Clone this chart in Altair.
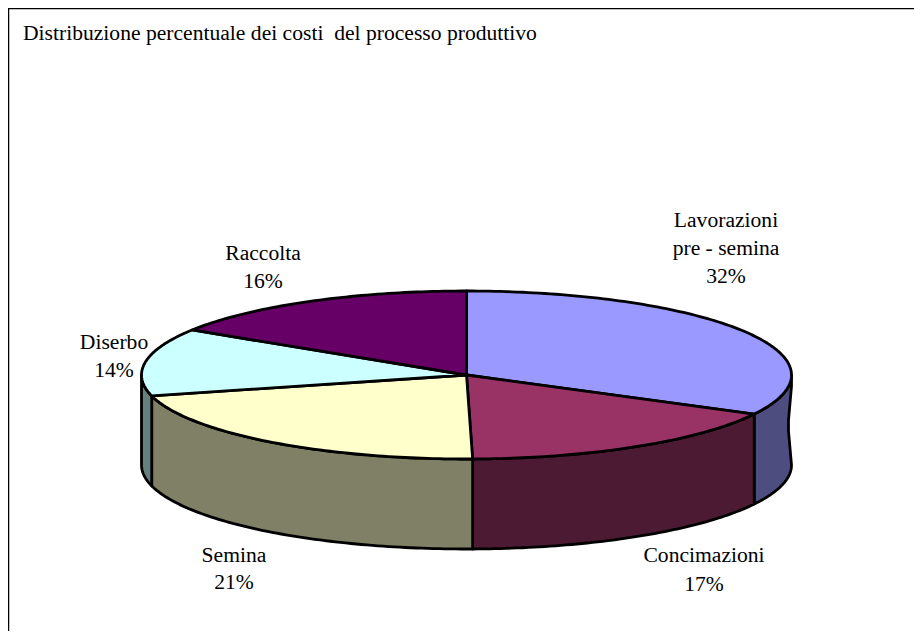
import math
import altair as alt
import pandas as pd

title = "Distribuzione percentuale dei costi\u00a0 del processo produttivo"
slices = ["Lavorazioni pre - semina", "Concimazioni", "Semina", "Diserbo", "Raccolta"]
shares = [32.7, 17.0, 21.3, 13.0, 16.0]
top_colors = ["#9999FF", "#993366", "#FFFFCC", "#CCFFFF", "#660066"]
side_colors = ["#4D4D80", "#4D1A33", "#808066", "#668080", "#330033"]

# (text lines, centre x, baseline y), page pixels
label_lines = ["Lavorazioni", "pre - semina", "32%", "Concimazioni", "17%", "Semina", "21%", "Diserbo", "14%", "Raccolta", "16%"]
label_x = [726, 726, 726, 704, 704, 234, 234, 114, 114, 263, 263]
label_y = [227, 255, 283, 562, 591, 562, 589, 349, 377, 260, 288]

W, H = 906, 623
OX, OY = 8, 8
CX, CY, RX, RY, DEPTH = 466.5, 375, 325, 84, 90
right_edge_wave = [0, -1, -2, -3, -3, -2, -1, 0, 1]


def rim(t, drop=0):
    r = math.radians(t)
    return CX + RX * math.sin(r) - OX, CY - RY * math.cos(r) + drop - OY


def arc(t1, t2, drop=0):
    n = max(2, int(abs(t2 - t1)) + 1)
    return [rim(t1 + (t2 - t1) * i / n, drop) for i in range(n + 1)]


def poly_chart(points, fill, width=2.8):
    pts = list(points) + [points[0]]
    df = pd.DataFrame({"x": [p[0] for p in pts], "y": [p[1] for p in pts], "i": range(len(pts))})
    return alt.Chart(df).mark_line(fill=fill, stroke="black", strokeWidth=width, strokeJoin="round", clip=False).encode(
        x=alt.X("x:Q", scale=alt.Scale(domain=[0, W], nice=False, zero=False), axis=None),
        y=alt.Y("y:Q", scale=alt.Scale(domain=[H, 0], nice=False, zero=False), axis=None),
        order="i:Q",
    )


layers = []
angles = [0]
for s in shares:
    angles.append(angles[-1] + s * 3.6)

# side walls (front half only)
for i in range(len(slices)):
    a, b = max(angles[i], 90), min(angles[i + 1], 270)
    if a >= b:
        continue
    upper = arc(a, b)
    lower = arc(b, a, DEPTH)
    if a == 90:
        # the right edge of the wall is not perfectly straight in the picture
        x0, y0 = rim(90)
        edge = [(x0 + d, y0 + DEPTH * (len(right_edge_wave) - 1 - k) / (len(right_edge_wave) - 1))
                for k, d in enumerate(right_edge_wave)]
        lower = lower[:-1] + edge[:-1]
    layers.append(poly_chart(upper + lower, side_colors[i]))

# top faces
centre = (CX - OX, CY - OY)
for i in range(len(slices)):
    layers.append(poly_chart([centre] + arc(angles[i], angles[i + 1]), top_colors[i]))

frame = pd.DataFrame({"k": [0]})
layers.append(alt.Chart(frame).mark_rule(color="black", strokeWidth=1.5).encode(
    x=alt.value(0.5), y=alt.value(0), y2=alt.value(H)))
layers.append(alt.Chart(frame).mark_rule(color="black", strokeWidth=1.5).encode(
    y=alt.value(0.5), x=alt.value(0), x2=alt.value(W)))

FONT = "Liberation Serif"
FS = 21.6
layers.append(alt.Chart(pd.DataFrame({"t": [title]})).mark_text(
    font=FONT, fontSize=FS, align="left", baseline="alphabetic", color="black").encode(
    text="t:N", x=alt.value(23 - OX), y=alt.value(40 - OY)))
for t, x, y in zip(label_lines, label_x, label_y):
    layers.append(alt.Chart(pd.DataFrame({"t": [t]})).mark_text(
        font=FONT, fontSize=FS, align="center", baseline="alphabetic", color="black").encode(
        text="t:N", x=alt.value(x - OX), y=alt.value(y - OY)))

chart = alt.layer(*layers).properties(
    width=W, height=H, padding=0, background="white", autosize=alt.AutoSizeParams(type="none")
).configure_view(stroke=None)
chart.save("out.html", embed_options={"renderer": "svg", "actions": False})
